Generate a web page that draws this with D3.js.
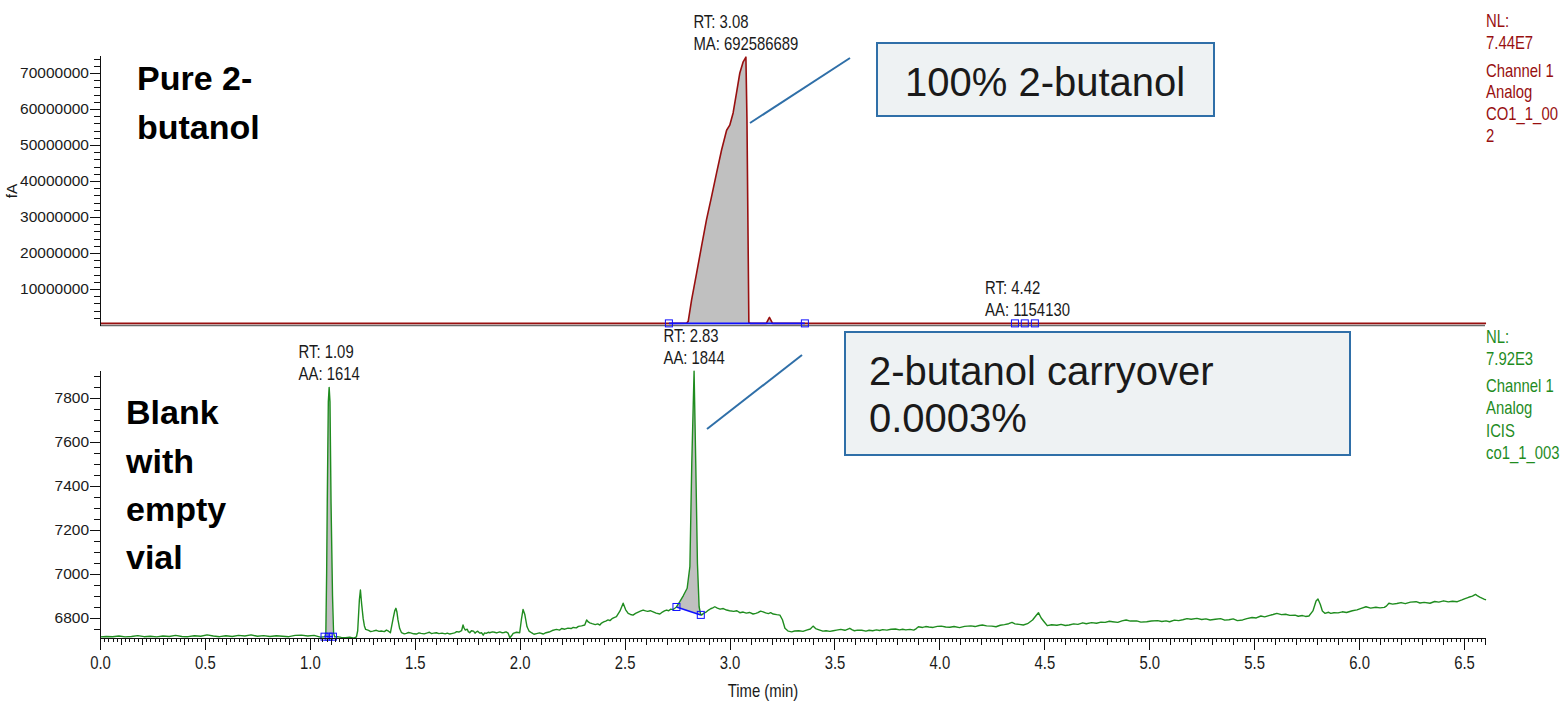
<!DOCTYPE html>
<html>
<head>
<meta charset="utf-8">
<script src="https://cdn.jsdelivr.net/npm/d3@7"></script>
<style>
  html, body { margin: 0; padding: 0; background: #fff; }
  svg { display: block; }
  text { font-family: "Liberation Sans", Arial, sans-serif; }
</style>
</head>
<body>
<svg id="chart" width="1565" height="701"></svg>
<script>
// ---------- data ----------
// Time axis (min)
const timeDomain = [0, 6.6];
const timeLabelTicks = d3.range(0, 14).map(i => i * 0.5);
const timeMediumTicks = d3.range(0, 67).map(i => i * 0.1);
const timeMinorTicks = d3.range(0, 331).map(i => i * 0.02);

// Upper trace: pure 2-butanol, detector signal (fA)
const pureDomain = [0, 75e6];
const pureTickLabels = [1e7, 2e7, 3e7, 4e7, 5e7, 6e7, 7e7];
const pureMinorTicks = d3.range(1, 38).map(i => i * 2e6);
const pureTrace = [
  [0.00, 0.45e6], [2.70, 0.45e6], [2.795, 0.5e6], [2.803, 1.0e6], [2.819, 6.9e6],
  [2.843, 14.4e6], [2.866, 21.7e6], [2.890, 29.2e6], [2.914, 35.6e6], [2.938, 42.2e6],
  [2.962, 48.6e6], [2.986, 54.1e6], [3.001, 55.5e6], [3.017, 58.9e6], [3.033, 64.4e6],
  [3.049, 70.0e6], [3.065, 73.1e6], [3.078, 74.4e6], [3.083, 57e6], [3.092, 0.6e6],
  [3.10, 0.45e6], [3.175, 0.45e6], [3.19, 2.1e6], [3.205, 0.45e6], [6.605, 0.45e6]
];
// integration windows: [start time, start value, end time, end value]
const pureIntegrations = [[2.711, 0.45e6, 3.359, 0.45e6]];
const pureMarkers = [[2.711, 0.45e6], [3.359, 0.45e6], [4.360, 0.45e6], [4.407, 0.45e6], [4.455, 0.45e6]];
const pureLabels = [
  { t: 3.078, v: 74.4e6, lines: ["RT: 3.08", "MA: 692586689"] },
  { t: 4.42, v: 0.45e6, lines: ["RT: 4.42", "AA: 1154130"] }
];
const pureInfo = ["NL:", "7.44E7", "Channel 1", "Analog", "CO1_1_00", "2"];

// Lower trace: blank run with empty vial
const blankDomain = [6707, 7925];
const blankTickLabels = [6800, 7000, 7200, 7400, 7600, 7800];
const blankMinorTicks = d3.range(6750, 7901, 50);
const blankTrace = [
  [0.00, 6712], [0.03, 6714], [0.06, 6713], [0.09, 6716], [0.12, 6712], [0.15, 6714],
  [0.18, 6718], [0.21, 6713], [0.24, 6715], [0.27, 6712], [0.30, 6716], [0.33, 6714],
  [0.36, 6719], [0.39, 6714], [0.42, 6713], [0.45, 6717], [0.48, 6715], [0.51, 6721],
  [0.54, 6716], [0.57, 6713], [0.60, 6717], [0.63, 6714], [0.66, 6719], [0.69, 6716],
  [0.72, 6721], [0.75, 6715], [0.78, 6718], [0.81, 6714], [0.84, 6717], [0.87, 6715],
  [0.90, 6713], [0.93, 6719], [0.96, 6720], [0.99, 6716], [1.02, 6719], [1.05, 6711],
  [1.068, 6713], [1.076, 6716], [1.080, 7000], [1.083, 7325], [1.088, 7780], [1.092, 7846],
  [1.096, 7780], [1.101, 7320], [1.108, 6900], [1.113, 6730], [1.118, 6712], [1.13, 6713],
  [1.15, 6710], [1.17, 6708], [1.19, 6711], [1.21, 6706], [1.222, 6712], [1.228, 6740],
  [1.236, 6880], [1.241, 6925], [1.247, 6860], [1.254, 6796], [1.260, 6762], [1.266, 6746],
  [1.28, 6742], [1.29, 6736], [1.30, 6738], [1.317, 6742], [1.33, 6737], [1.34, 6739],
  [1.355, 6736], [1.365, 6743], [1.375, 6738], [1.384, 6731], [1.397, 6796], [1.405, 6832],
  [1.410, 6842], [1.415, 6825], [1.420, 6789], [1.428, 6750], [1.437, 6731], [1.45, 6726],
  [1.46, 6728], [1.47, 6732], [1.48, 6730], [1.495, 6726], [1.508, 6725], [1.52, 6730],
  [1.53, 6728], [1.545, 6726], [1.56, 6730], [1.57, 6733], [1.58, 6727], [1.59, 6729],
  [1.603, 6731], [1.615, 6727], [1.63, 6729], [1.645, 6726], [1.655, 6729], [1.667, 6725],
  [1.68, 6728], [1.69, 6730], [1.70, 6736], [1.71, 6734], [1.723, 6740], [1.730, 6766],
  [1.735, 6752], [1.741, 6743], [1.75, 6747], [1.755, 6736], [1.762, 6731], [1.77, 6740],
  [1.78, 6738], [1.787, 6729], [1.794, 6735], [1.80, 6738], [1.81, 6729], [1.818, 6731],
  [1.826, 6720], [1.833, 6730], [1.84, 6728], [1.85, 6733], [1.857, 6731], [1.87, 6735],
  [1.88, 6733], [1.89, 6730], [1.905, 6735], [1.915, 6731], [1.925, 6732], [1.935, 6735],
  [1.945, 6729], [1.953, 6708], [1.962, 6718], [1.969, 6728], [1.985, 6733], [2.000, 6731],
  [2.008, 6790], [2.016, 6837], [2.024, 6815], [2.035, 6758], [2.045, 6738], [2.056, 6731],
  [2.068, 6724], [2.08, 6727], [2.095, 6730], [2.112, 6725], [2.125, 6731], [2.14, 6734],
  [2.155, 6741], [2.175, 6746], [2.19, 6743], [2.20, 6750], [2.215, 6747], [2.23, 6752],
  [2.245, 6750], [2.255, 6755], [2.27, 6753], [2.28, 6760], [2.295, 6762], [2.310, 6766],
  [2.319, 6789], [2.327, 6780], [2.334, 6776], [2.345, 6772], [2.36, 6768], [2.372, 6771],
  [2.382, 6766], [2.39, 6775], [2.40, 6780], [2.41, 6784], [2.421, 6789], [2.43, 6786],
  [2.44, 6795], [2.45, 6800], [2.461, 6804], [2.478, 6830], [2.493, 6865], [2.505, 6835],
  [2.517, 6819], [2.528, 6814], [2.540, 6811], [2.552, 6819], [2.565, 6825], [2.575, 6829],
  [2.588, 6834], [2.60, 6830], [2.61, 6828], [2.622, 6831], [2.636, 6826], [2.65, 6820],
  [2.668, 6816], [2.68, 6825], [2.69, 6830], [2.700, 6834], [2.71, 6831], [2.72, 6838],
  [2.73, 6836], [2.739, 6842], [2.747, 6848], [2.763, 6872], [2.780, 6900], [2.798, 6933],
  [2.811, 7031], [2.820, 7500], [2.831, 7920], [2.839, 7500], [2.847, 7046], [2.855, 6849],
  [2.863, 6812], [2.866, 6811], [2.878, 6820], [2.890, 6826], [2.90, 6834], [2.91, 6840],
  [2.92, 6844], [2.930, 6849], [2.942, 6843], [2.955, 6838], [2.97, 6841], [2.986, 6834],
  [3.00, 6831], [3.02, 6828], [3.035, 6831], [3.049, 6822], [3.065, 6825], [3.08, 6820],
  [3.095, 6823], [3.112, 6816], [3.125, 6819], [3.135, 6822], [3.148, 6829], [3.160, 6826],
  [3.172, 6821], [3.185, 6818], [3.196, 6822], [3.208, 6816], [3.225, 6813], [3.240, 6811],
  [3.252, 6790], [3.264, 6751], [3.280, 6738], [3.296, 6735], [3.31, 6739], [3.33, 6740],
  [3.35, 6737], [3.367, 6743], [3.385, 6748], [3.398, 6761], [3.41, 6750], [3.430, 6743],
  [3.445, 6738], [3.46, 6740], [3.478, 6737], [3.494, 6740], [3.51, 6743], [3.53, 6746],
  [3.55, 6742], [3.573, 6751], [3.585, 6744], [3.595, 6740], [3.61, 6743], [3.63, 6742],
  [3.65, 6738], [3.665, 6742], [3.682, 6740], [3.70, 6744], [3.715, 6741], [3.73, 6745],
  [3.75, 6743], [3.77, 6747], [3.791, 6748], [3.81, 6744], [3.825, 6747], [3.84, 6744],
  [3.86, 6746], [3.878, 6743], [3.89, 6750], [3.900, 6758], [3.92, 6755], [3.935, 6759],
  [3.95, 6757], [3.97, 6755], [3.99, 6760], [4.009, 6761], [4.03, 6757], [4.05, 6756],
  [4.07, 6759], [4.096, 6754], [4.12, 6760], [4.15, 6762], [4.17, 6759], [4.19, 6764],
  [4.205, 6766], [4.225, 6762], [4.25, 6761], [4.270, 6758], [4.29, 6765], [4.31, 6768],
  [4.33, 6772], [4.346, 6778], [4.36, 6771], [4.38, 6769], [4.400, 6766], [4.42, 6772],
  [4.444, 6789], [4.460, 6808], [4.472, 6822], [4.485, 6798], [4.499, 6781], [4.514, 6763],
  [4.535, 6767], [4.56, 6765], [4.58, 6769], [4.60, 6764], [4.618, 6766], [4.64, 6771],
  [4.66, 6769], [4.683, 6776], [4.70, 6772], [4.725, 6777], [4.749, 6774], [4.77, 6779],
  [4.79, 6778], [4.81, 6783], [4.825, 6781], [4.85, 6778], [4.87, 6785], [4.890, 6789],
  [4.91, 6784], [4.94, 6785], [4.96, 6779], [4.988, 6781], [5.01, 6784], [5.04, 6786],
  [5.06, 6782], [5.08, 6785], [5.097, 6781], [5.12, 6788], [5.14, 6786], [5.16, 6790],
  [5.18, 6795], [5.20, 6792], [5.227, 6796], [5.25, 6791], [5.27, 6794], [5.29, 6789],
  [5.315, 6792], [5.34, 6795], [5.36, 6788], [5.38, 6790], [5.40, 6794], [5.42, 6786],
  [5.445, 6789], [5.465, 6795], [5.49, 6800], [5.51, 6798], [5.532, 6807], [5.55, 6803],
  [5.57, 6809], [5.59, 6814], [5.608, 6819], [5.63, 6813], [5.65, 6815], [5.67, 6810],
  [5.695, 6811], [5.71, 6806], [5.73, 6809], [5.745, 6805], [5.761, 6807], [5.780, 6830],
  [5.795, 6875], [5.804, 6884], [5.815, 6860], [5.825, 6830], [5.837, 6819], [5.855, 6824],
  [5.865, 6819], [5.880, 6822], [5.90, 6821], [5.92, 6826], [5.94, 6823], [5.968, 6831],
  [5.99, 6835], [6.01, 6842], [6.033, 6849], [6.055, 6843], [6.08, 6847], [6.10, 6844],
  [6.120, 6846], [6.13, 6852], [6.142, 6865], [6.16, 6861], [6.18, 6864], [6.20, 6868],
  [6.22, 6863], [6.245, 6870], [6.272, 6872], [6.29, 6866], [6.31, 6869], [6.338, 6865],
  [6.36, 6873], [6.38, 6870], [6.403, 6876], [6.425, 6871], [6.445, 6874], [6.468, 6872],
  [6.49, 6880], [6.505, 6886], [6.522, 6892], [6.54, 6897], [6.555, 6905], [6.565, 6898],
  [6.575, 6893], [6.588, 6887], [6.595, 6884], [6.605, 6880]
];
const blankIntegrations = [[1.07, 6713, 1.11, 6713], [2.747, 6848, 2.863, 6812]];
const blankMarkers = [[1.07, 6713], [1.09, 6713], [1.11, 6713], [2.747, 6848], [2.863, 6812]];
const blankLabels = [
  { t: 1.092, v: 7846, lines: ["RT: 1.09", "AA: 1614"] },
  { t: 2.831, v: 7920, lines: ["RT: 2.83", "AA: 1844"] }
];
const blankInfo = ["NL:", "7.92E3", "Channel 1", "Analog", "ICIS", "co1_1_003"];

// ---------- drawing ----------
const svg = d3.select("#chart");
const SX = 0.85;               // horizontal condensing of the instrument's annotation font
const RED = "#980f0f", GREEN = "#1f8c1f", BLUE = "#1010ff";

const x = d3.scaleLinear().domain(timeDomain).range([100, 1485]);
const yTop = d3.scaleLinear().domain(pureDomain).range([325, 55]);
const yBot = d3.scaleLinear().domain(blankDomain).range([638, 370]);

function condensed(g, px, py, str, size, color, anchor) {
  return g.append("text")
    .attr("transform", `translate(${px},${py}) scale(${SX},1)`)
    .attr("font-size", size)
    .attr("fill", color)
    .attr("text-anchor", anchor || "start")
    .text(str);
}

function drawPanel(trace, yS, color, width, integrations, markers, labels) {
  const g = svg.append("g");
  // integrated areas
  integrations.forEach(([t0, v0, t1, v1]) => {
    const base = t => v0 + (v1 - v0) * (t - t0) / (t1 - t0);
    const pts = [[t0, v0]].concat(trace.filter(d => d[0] > t0 && d[0] < t1), [[t1, v1]]);
    g.append("path")
      .datum(pts)
      .attr("fill", "#c0c0c0")
      .attr("d", d3.area().x(d => x(d[0])).y0(d => yS(base(d[0]))).y1(d => yS(d[1])));
  });
  // trace
  g.append("path")
    .datum(trace)
    .attr("fill", "none")
    .attr("stroke", color)
    .attr("stroke-width", width)
    .attr("stroke-linejoin", "round")
    .attr("d", d3.line().x(d => x(d[0])).y(d => yS(d[1])));
  // integration baselines
  integrations.forEach(([t0, v0, t1, v1]) => {
    g.append("line")
      .attr("x1", x(t0)).attr("y1", yS(v0))
      .attr("x2", x(t1)).attr("y2", yS(v1))
      .attr("stroke", BLUE).attr("stroke-width", 1.6);
  });
  // peak boundary markers
  g.selectAll("rect.mk").data(markers).enter().append("rect")
    .attr("class", "mk")
    .attr("x", d => x(d[0]) - 3.5).attr("y", d => yS(d[1]) - 3.5)
    .attr("width", 7).attr("height", 7)
    .attr("fill", "none").attr("stroke", BLUE).attr("stroke-width", 1);
  // peak labels, block centred on the apex
  labels.forEach(lb => {
    const px = x(lb.t), py = yS(lb.v);
    const texts = lb.lines.map(s => g.append("text").attr("font-size", 17.5).attr("fill", "#1a1a1a").text(s));
    const w = d3.max(texts, t => t.node().getComputedTextLength()) * SX;
    texts.forEach((t, i) => {
      const by = py - 7.5 - (lb.lines.length - 1 - i) * 22;
      t.attr("transform", `translate(${px - w / 2},${by}) scale(${SX},1)`);
    });
  });
  return g;
}

// ----- upper panel -----
// plain time baseline of the upper panel
svg.append("line")
  .attr("x1", x(timeDomain[0])).attr("x2", x(timeDomain[1]))
  .attr("y1", yTop(0) + 0.5).attr("y2", yTop(0) + 0.5)
  .attr("stroke", "#6a6a6a").attr("stroke-width", 1.3);

drawPanel(pureTrace, yTop, RED, 1.6, pureIntegrations, pureMarkers, pureLabels);

function styleAxis(g, size) {
  g.selectAll("line, path").attr("stroke", "#111").attr("shape-rendering", "crispEdges");
  g.selectAll("text").attr("font-size", size).attr("font-family", '"Liberation Sans", Arial, sans-serif').attr("fill", "#1a1a1a");
  g.attr("font-size", null).attr("font-family", null);
}

const yTopMinor = svg.append("g").attr("transform", "translate(100,0)")
  .call(d3.axisLeft(yTop).tickValues(pureMinorTicks).tickSize(6).tickSizeOuter(0).tickFormat(""));
styleAxis(yTopMinor, 15.5);
const yTopMajor = svg.append("g").attr("transform", "translate(100,0)")
  .call(d3.axisLeft(yTop).tickValues(pureTickLabels).tickSize(10).tickPadding(1).tickSizeOuter(0).tickFormat(d3.format("d")));
styleAxis(yTopMajor, 15.5);

svg.append("text")
  .attr("transform", "translate(17,191) rotate(-90)")
  .attr("text-anchor", "middle")
  .attr("font-size", 15.5).attr("fill", "#1a1a1a")
  .text("fA");

// ----- lower panel -----
drawPanel(blankTrace, yBot, GREEN, 1.4, blankIntegrations, blankMarkers, blankLabels);

const yBotMinor = svg.append("g").attr("transform", "translate(100,0)")
  .call(d3.axisLeft(yBot).tickValues(blankMinorTicks).tickSize(6).tickSizeOuter(0).tickFormat(""));
styleAxis(yBotMinor, 15.5);
const yBotMajor = svg.append("g").attr("transform", "translate(100,0)")
  .call(d3.axisLeft(yBot).tickValues(blankTickLabels).tickSize(10).tickPadding(1).tickSizeOuter(0).tickFormat(d3.format("d")));
styleAxis(yBotMajor, 15.5);

// time axis: fine, medium and labelled ticks
const xMinor = svg.append("g").attr("transform", "translate(0,638)")
  .call(d3.axisBottom(x).tickValues(timeMinorTicks).tickSize(4).tickSizeOuter(0).tickFormat(""));
styleAxis(xMinor, 17.5);
const xMedium = svg.append("g").attr("transform", "translate(0,638)")
  .call(d3.axisBottom(x).tickValues(timeMediumTicks).tickSize(7).tickSizeOuter(0).tickFormat(""));
styleAxis(xMedium, 17.5);
const xMajor = svg.append("g").attr("transform", "translate(0,638)")
  .call(d3.axisBottom(x).tickValues(timeLabelTicks).tickSize(12).tickPadding(7).tickSizeOuter(0).tickFormat(d3.format(".1f")));
styleAxis(xMajor, 17.5);
xMajor.selectAll(".tick text").attr("transform", `scale(${SX},1)`);

condensed(svg, 763, 697, "Time (min)", 17.5, "#1a1a1a", "middle");

// ----- run information at the right -----
function infoBlock(lines, color, baselines) {
  lines.forEach((s, i) => condensed(svg, 1486, baselines[i], s, 17.5, color));
}
infoBlock(pureInfo, RED, [27, 49, 77, 98, 120, 142]);
infoBlock(blankInfo, GREEN, [343, 365, 392, 414, 437, 459]);

// ----- sample names -----
const boldFont = 'Lato, "Open Sans", sans-serif';
[["Pure 2-", 90], ["butanol", 139]].forEach(([s, by]) =>
  svg.append("text").attr("x", 137).attr("y", by).attr("font-family", boldFont)
    .attr("font-weight", 700).attr("font-size", 34).attr("fill", "#000").text(s));
[["Blank", 424], ["with", 473], ["empty", 521], ["vial", 569]].forEach(([s, by]) =>
  svg.append("text").attr("x", 126).attr("y", by).attr("font-family", boldFont)
    .attr("font-weight", 700).attr("font-size", 34).attr("fill", "#000").text(s));

// ----- callouts -----
const CALLOUT = "#2f6fa8";
svg.append("line").attr("x1", 750).attr("y1", 123).attr("x2", 850).attr("y2", 58)
  .attr("stroke", CALLOUT).attr("stroke-width", 2);
svg.append("rect").attr("x", 877).attr("y", 43).attr("width", 337).attr("height", 73)
  .attr("fill", "#eef2f3").attr("stroke", CALLOUT).attr("stroke-width", 2);
svg.append("text").attr("x", 905).attr("y", 96).attr("font-size", 40).attr("fill", "#1a1a1a")
  .text("100% 2-butanol");

svg.append("line").attr("x1", 707).attr("y1", 429).attr("x2", 802).attr("y2", 355)
  .attr("stroke", CALLOUT).attr("stroke-width", 2);
svg.append("rect").attr("x", 845).attr("y", 332).attr("width", 505).attr("height", 123)
  .attr("fill", "#eef2f3").attr("stroke", CALLOUT).attr("stroke-width", 2);
svg.append("text").attr("x", 869).attr("y", 385).attr("font-size", 40).attr("fill", "#1a1a1a")
  .text("2-butanol carryover");
svg.append("text").attr("x", 869).attr("y", 432).attr("font-size", 40).attr("fill", "#1a1a1a")
  .text("0.0003%");
</script>
</body>
</html>
